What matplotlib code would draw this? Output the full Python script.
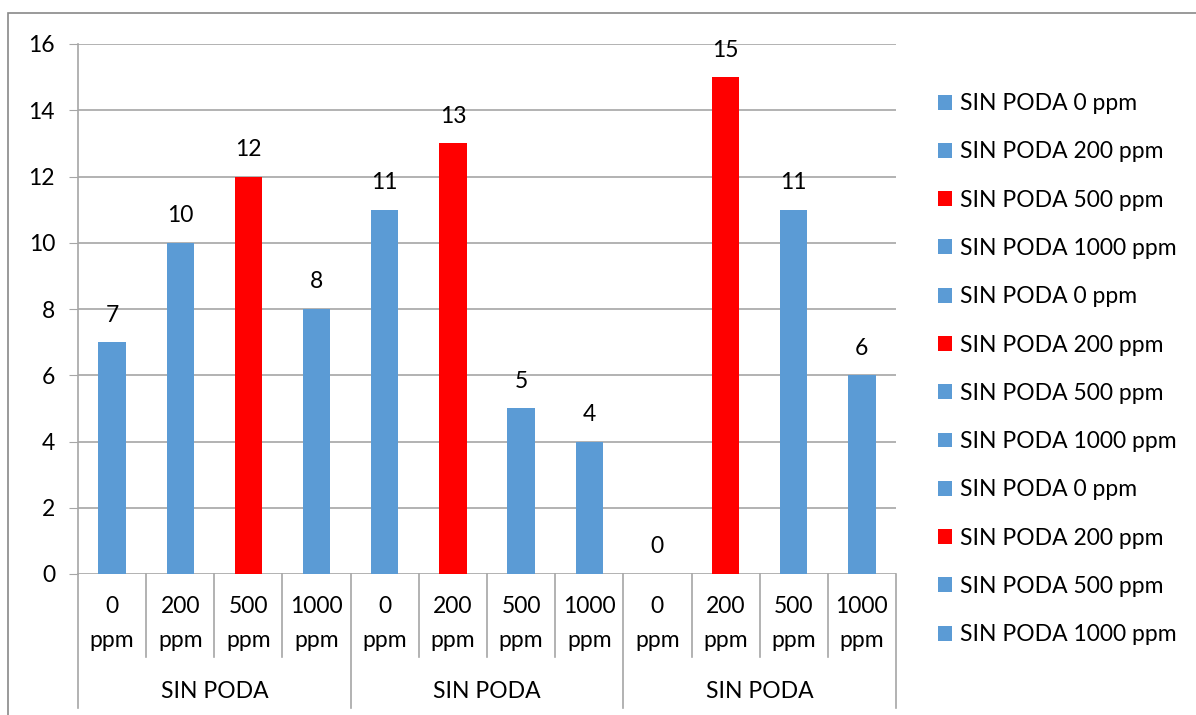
import matplotlib.pyplot as plt
from matplotlib.patches import Patch, Rectangle

plt.rcParams['font.family'] = ['Lato', 'DejaVu Sans']

# values per bar (each bar is its own series)
groups = ['SIN PODA', 'SIN PODA', 'SIN PODA']
doses = ['0', '200', '500', '1000']
values = [7, 10, 12, 8, 11, 13, 5, 4, 0, 15, 11, 6]
highlight = [False, False, True, False,
             False, True, False, False,
             False, True, False, False]
series_names = ['SIN PODA ' + d + ' ppm' for g in groups for d in doses]

blue = '#5B9BD5'
red = '#FF0000'
grid_col = '#A6A6A6'
colors = [red if h else blue for h in highlight]
fs = 16.5

W, H = 1196, 715
fig = plt.figure(figsize=(W / 100, H / 100), dpi=100)
ax = fig.add_axes([78 / W, (H - 574) / H, 818 / W, 530 / H])

x = list(range(len(values)))
bars = ax.bar(x, values, width=0.4, color=colors, zorder=3)
for xi, v in zip(x, values):
    ax.text(xi, v + 0.5, str(v), ha='center', va='bottom', fontsize=fs)

ax.set_xlim(-0.5, len(values) - 0.5)
ax.set_ylim(0, 16)
ax.set_yticks(range(0, 17, 2))
ax.tick_params(axis='y', length=6.5, color=grid_col, pad=10, labelsize=fs)
ax.tick_params(axis='x', length=0, labelbottom=False)
ax.grid(axis='y', color=grid_col, linewidth=1.2, zorder=0)
for s in ['top', 'right', 'bottom']:
    ax.spines[s].set_visible(False)
ax.spines['left'].set_color(grid_col)
ax.spines['left'].set_linewidth(1.2)

# two-level category axis
tr = ax.get_xaxis_transform()
for i in range(len(values)):
    ax.text(i, -0.062, doses[i % 4], transform=tr, ha='center', va='center', fontsize=fs)
    ax.text(i, -0.126, 'ppm', transform=tr, ha='center', va='center', fontsize=fs)
for i in range(1, len(values)):
    if i % 4:
        ax.plot([i - 0.5, i - 0.5], [0, -0.157], transform=tr, color=grid_col,
                linewidth=1.2, clip_on=False)
for g in range(len(groups) + 1):
    ax.plot([g * 4 - 0.5, g * 4 - 0.5], [0, -0.253], transform=tr, color=grid_col,
            linewidth=1.2, clip_on=False)
for g, name in enumerate(groups):
    ax.text(g * 4 + 1.5, -0.221, name, transform=tr, ha='center', va='center', fontsize=fs)

handles = [Patch(facecolor=c, edgecolor='none') for c in colors]
fig.legend(handles, series_names, loc='upper left', bbox_to_anchor=(929 / W, 1 - 84 / H),
           frameon=False, fontsize=fs, handlelength=0.62, handleheight=0.62,
           handletextpad=0.35, labelspacing=1.19, borderaxespad=0)

fig.add_artist(Rectangle((8 / W, -0.05), 1.2, 1 - 13 / H + 0.05, transform=fig.transFigure,
                         fill=False, edgecolor='#898989', linewidth=1.2))

fig.savefig('out.png', dpi=100)
